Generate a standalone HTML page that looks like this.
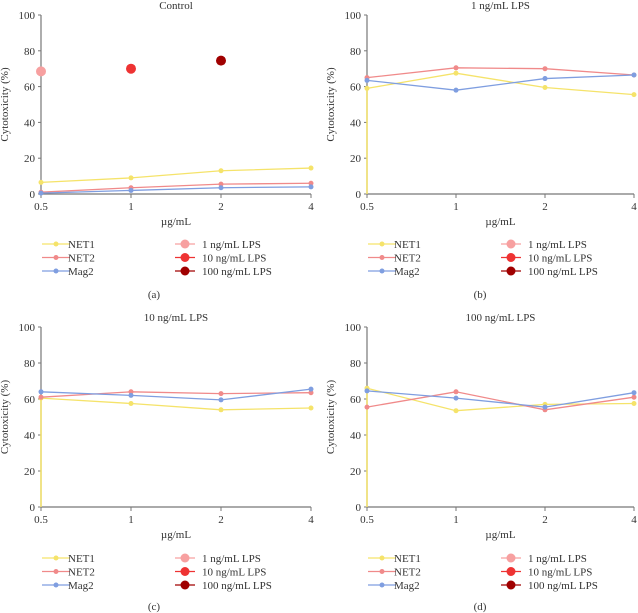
<!DOCTYPE html>
<html><head><meta charset="utf-8">
<style>
body{margin:0;background:#fff;}
svg{display:block;font-family:"Liberation Serif",serif;}
text{fill:#333;font-size:11px;}
</style></head>
<body>
<svg id="chart" width="638" height="613" viewBox="0 0 638 613" xmlns="http://www.w3.org/2000/svg"></svg>
<script>
const categories = ["0.5","1","2","4"];
const yTicks = [0,20,40,60,80,100];
const panelTitles = ["Control","1 ng/mL LPS","10 ng/mL LPS","100 ng/mL LPS"];
const panelLetters = ["(a)","(b)","(c)","(d)"];
const net1A = [6.5,9,13,14.5];
const net2A = [1,3.5,5.5,6];
const mag2A = [0.5,2,3.5,4];
const lpsIndex = [0,1,2];
const lpsValues = [68.5,70,74.5];
const net1B = [59,67.5,59.5,55.5];
const net2B = [65,70.5,70,66.5];
const mag2B = [63.5,58,64.5,66.5];
const net1C = [60.5,57.5,54,55];
const net2C = [61,64,63,63.5];
const mag2C = [64,62,59.5,65.5];
const net1D = [66,53.5,57,57.5];
const net2D = [55.5,64,54,61];
const mag2D = [64.5,60.5,55.5,63.5];

const C1="#f5e36a", C2="#f08a8a", C3="#7f9ee0";
const LPSC=["#f7a0a0","#ee3333","#a00000"];
const svg=document.getElementById('chart');
const NS="http://www.w3.org/2000/svg";
function mk(tag,attrs,parent){const e=document.createElementNS(NS,tag);for(const k in attrs)e.setAttribute(k,attrs[k]);(parent||svg).appendChild(e);return e;}

const panels=[
 {x0:41,x1:311,yTop:15,yBot:194,title:5,legY:244,letY:294,series:[net1A,net2A,mag2A],lps:true},
 {x0:367,x1:634,yTop:15,yBot:194,title:5,legY:244,letY:294,series:[net1B,net2B,mag2B]},
 {x0:41,x1:311,yTop:327,yBot:507,title:317,legY:558,letY:606,series:[net1C,net2C,mag2C]},
 {x0:367,x1:634,yTop:327,yBot:507,title:317,legY:558,letY:606,series:[net1D,net2D,mag2D]}
];
const names=["NET1","NET2","Mag2"], cols=[C1,C2,C3];
const lpsNames=["1 ng/mL LPS","10 ng/mL LPS","100 ng/mL LPS"];

panels.forEach((p,pi)=>{
  const g=mk('g',{});
  
  
  const xs=i=>p.x0+(p.x1-p.x0)*i/(categories.length-1);
  const ys=v=>p.yBot-(p.yBot-p.yTop)*v/100;
  const cx=(p.x0+p.x1)/2;
  const t=mk('text',{x:cx,y:p.title+4,'text-anchor':'middle'},g);t.textContent=panelTitles[pi];
  
  const ya=mk('line',{x1:p.x0,y1:p.yTop,x2:p.x0,y2:p.yBot,stroke:'#777','stroke-width':1.2},g);
  
  const xa=mk('line',{x1:p.x0,y1:p.yBot,x2:p.x1,y2:p.yBot,stroke:'#777','stroke-width':1.2},g);
  
  yTicks.forEach(v=>{
    mk('line',{x1:p.x0-3,y1:ys(v),x2:p.x0,y2:ys(v),stroke:'#777'},g);
    const tt=mk('text',{x:p.x0-6,y:ys(v)+4,'text-anchor':'end'},g);tt.textContent=v;
    
  });
  categories.forEach((c,i)=>{
    mk('line',{x1:xs(i),y1:p.yBot,x2:xs(i),y2:p.yBot+4,stroke:'#777'},g);
    const tt=mk('text',{x:xs(i),y:p.yBot+16,'text-anchor':'middle'},g);tt.textContent=c;
    
  });
  const xt=mk('text',{x:cx,y:p.yBot+31,'text-anchor':'middle'},g);xt.textContent="µg/mL";
  
  const ylx=p.x0-33, yly=(p.yTop+p.yBot)/2;
  const yt=mk('text',{x:ylx,y:yly,'text-anchor':'middle',transform:`rotate(-90 ${ylx} ${yly})`},g);yt.textContent="Cytotoxicity (%)";
  
  if(!p.lps){
    mk('line',{x1:p.x0,y1:p.yBot,x2:p.x0,y2:ys(p.series[0][0]),stroke:C1,'stroke-width':1.5},g);
  }
  p.series.forEach((s,si)=>{
    const pts=s.map((v,i)=>xs(i)+','+ys(v)).join(' ');
    const pl=mk('polyline',{points:pts,fill:'none',stroke:cols[si],'stroke-width':1.3},g);
    
    s.forEach((v,i)=>{
      const c=mk('circle',{cx:xs(i),cy:ys(v),r:2.5,fill:cols[si]},g);
      
    });
  });
  if(p.lps){
    lpsIndex.forEach((ix,k)=>{
      const c=mk('circle',{cx:xs(ix),cy:ys(lpsValues[k]),r:5,fill:LPSC[k]},g);
      
    });
  }
  // legend
  names.forEach((n,k)=>{
    const y=p.legY+k*13.5;
    const lg=mk('g',{},g);
    
    mk('line',{x1:p.x0+1,y1:y,x2:p.x0+29,y2:y,stroke:cols[k],'stroke-width':1.3},lg);
    mk('circle',{cx:p.x0+15,cy:y,r:2.5,fill:cols[k]},lg);
    const tt=mk('text',{x:p.x0+27,y:y+4},lg);tt.textContent=n;
  });
  lpsNames.forEach((n,k)=>{
    const y=p.legY+k*13.5;
    const lg=mk('g',{},g);
    
    mk('line',{x1:p.x0+134,y1:y,x2:p.x0+154,y2:y,stroke:LPSC[k],'stroke-width':1.3},lg);
    mk('circle',{cx:p.x0+144,cy:y,r:4.5,fill:LPSC[k]},lg);
    const tt=mk('text',{x:p.x0+161,y:y+4},lg);tt.textContent=n;
  });
  const lt=mk('text',{x:p.x0+113,y:p.letY+4,'text-anchor':'middle'},g);lt.textContent=panelLetters[pi];
  
});
</script>
</body></html>
